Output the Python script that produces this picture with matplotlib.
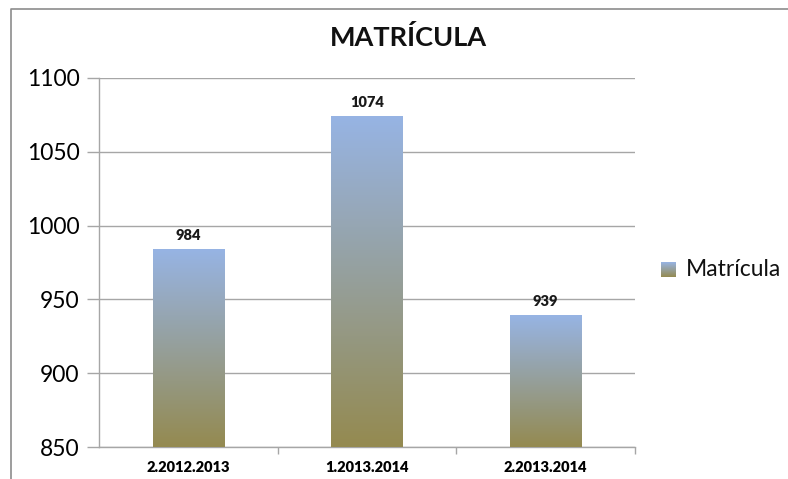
import matplotlib.pyplot as plt
import numpy as np
from matplotlib.colors import LinearSegmentedColormap
from matplotlib.lines import Line2D

periods = ['2.2012.2013', '1.2013.2014', '2.2013.2014']
matricula = [984, 1074, 939]
y_ticks = [850, 900, 950, 1000, 1050, 1100]

plt.rcParams['font.family'] = ['Lato', 'DejaVu Sans']

top_color = '#97B4E4'
bottom_color = '#948A50'
grad = LinearSegmentedColormap.from_list('grad', [bottom_color, top_color])

fig = plt.figure(figsize=(7.88, 4.79), dpi=100)
ax = fig.add_axes([99/788, 1 - 447/479, (635 - 99)/788, (447 - 78)/479])

x = np.arange(len(periods))
bars = ax.bar(x, matricula, width=0.4, color='none', zorder=3)

# gradient fill per bar
g = np.linspace(0, 1, 256).reshape(-1, 1)
for b, v in zip(bars, matricula):
    x0 = b.get_x()
    x1 = x0 + b.get_width()
    ax.imshow(g, cmap=grad, origin='lower', aspect='auto',
              extent=[x0, x1, 850, v], zorder=3, interpolation='bicubic')
    ax.text(b.get_x() + b.get_width()/2, v + 5, str(v), ha='center', va='bottom',
            fontsize=10.5, fontweight='heavy', color='#1a1a1a')
ax.set_xlim(-0.5, len(periods) - 0.5)
ax.set_ylim(850, 1100)

ax.set_yticks(y_ticks)
ax.set_yticklabels([str(t) for t in y_ticks], fontsize=16.5)
ax.yaxis.grid(True, color='#A6A6A6', linewidth=1, zorder=0)
ax.set_axisbelow(True)
ax.tick_params(axis='y', length=9, color='#A6A6A6', width=1, pad=5)

ax.set_xticks(x)
ax.set_xticklabels(periods, fontsize=10.5, fontweight='heavy')
ax.set_xticks([0.5, 1.5, 2.5], minor=True)
ax.tick_params(axis='x', which='major', length=0, pad=10)
ax.tick_params(axis='x', which='minor', length=5, color='#A6A6A6', width=1)

for s in ['top', 'right']:
    ax.spines[s].set_visible(False)
for s in ['left', 'bottom']:
    ax.spines[s].set_color('#A6A6A6')
    ax.spines[s].set_linewidth(1)

fig.text(408/788, 1 - 37/479, 'MATRÍCULA', ha='center', va='center',
         fontsize=19.5, fontweight='bold', color='#111111')

# legend
leg_img = fig.add_axes([661/788, 1 - 277/479, 15/788, 15/479])
leg_img.imshow(g, cmap=grad, origin='lower', aspect='auto')
leg_img.axis('off')
fig.text(686/788, 1 - 270/479, 'Matrícula', ha='left', va='center',
         fontsize=16.5, color='#111111')

# outer chart border (cut off at right and bottom)
fig.add_artist(Line2D([11/788, 11/788, 1], [0, 1 - 9/479, 1 - 9/479],
                      transform=fig.transFigure, color='#8C8C8C', linewidth=1.2))

fig.savefig('out.png', dpi=100)
